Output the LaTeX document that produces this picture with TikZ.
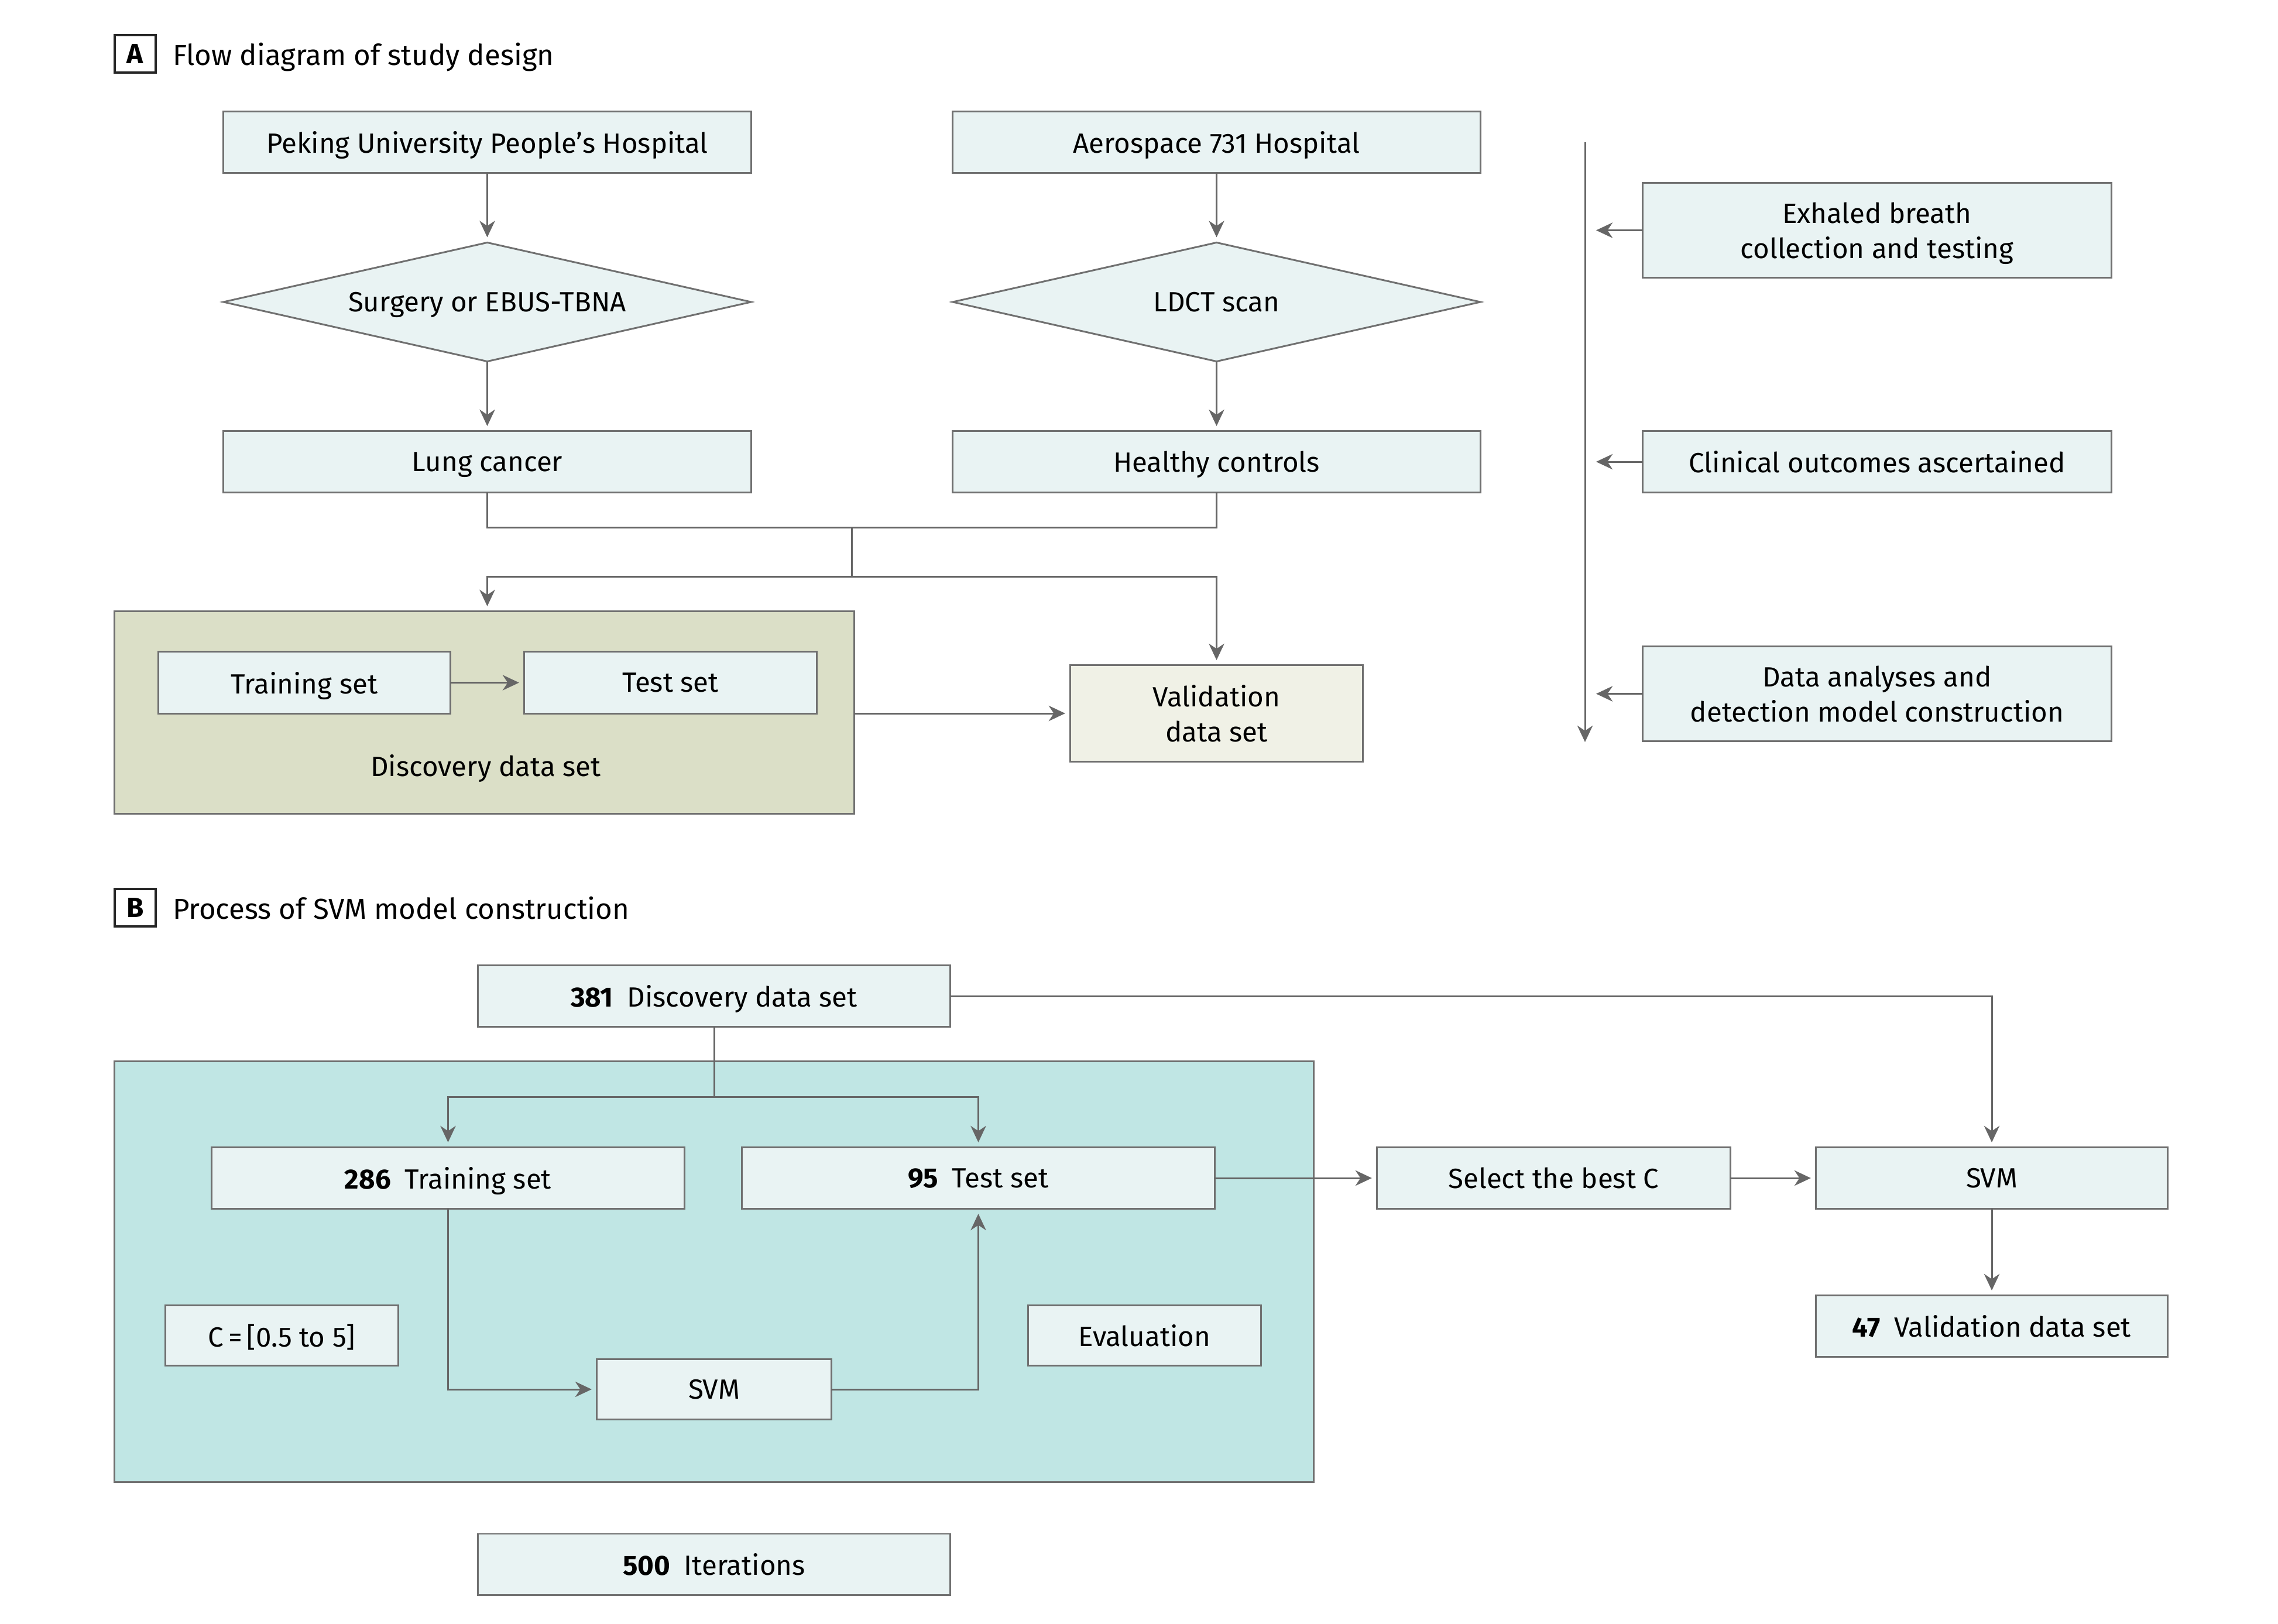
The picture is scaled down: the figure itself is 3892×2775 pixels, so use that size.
\documentclass[tikz,border=0pt]{standalone}
\usepackage{fontspec}
\setmainfont{Fira Sans}
\usetikzlibrary{arrows.meta,shapes.geometric,calc}
\definecolor{boxfill}{HTML}{E9F3F3}
\definecolor{boxline}{HTML}{707070}
\definecolor{arrcol}{HTML}{666666}
\definecolor{discfill}{HTML}{DBDFC7}
\definecolor{valfill}{HTML}{F0F1E6}
\definecolor{tealfill}{HTML}{C0E6E4}
\tikzset{
  every node/.style={font=\fontsize{13.5}{17}\selectfont, inner sep=0pt, outer sep=0pt, align=center, text depth=0pt},
  box/.style={draw=boxline, line width=0.85pt, fill=boxfill, rectangle},
  dia/.style={draw=boxline, line width=0.85pt, fill=boxfill, diamond, aspect=4.44},
  conn/.style={draw=arrcol, line width=0.85pt},
  arr/.style={conn, -{Stealth[length=8pt, width=7.5pt, inset=2.5pt]}, shorten >=0.09cm},
  panellab/.style={draw=black!85, line width=0.9pt, font=\fontsize{13.5}{15}\selectfont\bfseries, minimum width=0.7cm, minimum height=0.64cm},
  paneltitle/.style={anchor=west, font=\fontsize{14}{16}\selectfont},
}
\begin{document}
\begin{tikzpicture}[x=0.01cm, y=-0.01cm]
\useasboundingbox (0,0) rectangle (3892,2775);
% ---------- Panel A ----------
\node[panellab] (labA) at (231,92) {A};
\node[paneltitle] (titleA) at (295,92) {Flow diagram of study design};
\node[box, minimum width=9.01cm, minimum height=1.04cm] (peking) at (832.5,243) {Peking University People’s Hospital};
\node[box, minimum width=9.01cm, minimum height=1.04cm] (aero) at (2078.5,243) {Aerospace 731 Hospital};
\node[dia, minimum width=9.01cm, minimum height=2.03cm] (diam1) at (832.5,516) {Surgery or EBUS-TBNA};
\node[dia, minimum width=9.01cm, minimum height=2.03cm] (diam2) at (2078.5,516) {LDCT scan};
\node[box, minimum width=9.01cm, minimum height=1.04cm] (lung) at (832.5,789) {Lung cancer};
\node[box, minimum width=9.01cm, minimum height=1.04cm] (healthy) at (2078.5,789) {Healthy controls};
\node[box, fill=discfill, minimum width=12.63cm, minimum height=3.45cm] (disc) at (827.5,1217.5) {};
\node[box, minimum width=4.98cm, minimum height=1.05cm] (trainA) at (520,1166.5) {Training set};
\node[box, minimum width=4.99cm, minimum height=1.05cm] (testA) at (1145.5,1166.5) {Test set};
\node (disclab) at (830,1308) {Discovery data set};
\node[box, fill=valfill, minimum width=4.99cm, minimum height=1.64cm] (valid) at (2078.5,1219) {Validation\\data set};
\coordinate (mergeA) at (1455,901);
\coordinate (splitA) at (1455,985);
\draw[arr] (peking.south) -- (diam1.north);
\draw[arr] (aero.south) -- (diam2.north);
\draw[arr] (diam1.south) -- (lung.north);
\draw[arr] (diam2.south) -- (healthy.north);
\draw[conn] (lung.south) |- (mergeA);
\draw[conn] (healthy.south) |- (mergeA);
\draw[conn] (mergeA) -- (splitA);
\draw[arr] (splitA) -| (lung.south |- disc.north);
\draw[arr] (splitA) -| (valid.north);
\draw[arr] (trainA.east) -- (testA.west);
\draw[arr] (disc.east |- valid.west) -- (valid.west);
% timeline
\node[box, minimum width=8.0cm, minimum height=1.62cm] (exh) at (3207,393.5) {Exhaled breath\\collection and testing};
\node[box, minimum width=8.0cm, minimum height=1.04cm] (clin) at (3207,789) {Clinical outcomes ascertained};
\node[box, minimum width=8.0cm, minimum height=1.62cm] (dat) at (3207,1185.5) {Data analyses and\\detection model construction};
\coordinate (tltop) at (2708,243);
\coordinate (tlbot) at (2708,1277);
\draw[arr] (tltop) -- (tlbot);
\draw[arr] (exh.west) -- ([xshift=0.1cm]tltop |- exh.west);
\draw[arr] (clin.west) -- ([xshift=0.1cm]tltop |- clin.west);
\draw[arr] (dat.west) -- ([xshift=0.1cm]tltop |- dat.west);
% ---------- Panel B ----------
\node[panellab] (labB) at (231,1551) {B};
\node[paneltitle] (titleB) at (295,1551) {Process of SVM model construction};
\node[box, minimum width=8.06cm, minimum height=1.05cm] (b381) at (1220,1702) {\textbf{381}\enspace Discovery data set};
\node[box, fill=tealfill, minimum width=20.48cm, minimum height=7.18cm] (teal) at (1220,2173) {};
\node[box, minimum width=8.07cm, minimum height=1.04cm] (train) at (765.5,2013) {\textbf{286}\enspace Training set};
\node[box, minimum width=8.07cm, minimum height=1.04cm] (test) at (1671.5,2013) {\textbf{95}\enspace Test set};
\node[box, minimum width=6.03cm, minimum height=1.04cm] (selC) at (2654.5,2013) {Select the best C};
\node[box, minimum width=6.0cm, minimum height=1.04cm] (svmR) at (3403,2013) {SVM};
\node[box, minimum width=6.0cm, minimum height=1.04cm] (val47) at (3403,2266) {\textbf{47}\enspace Validation data set};
\node[box, minimum width=3.97cm, minimum height=1.02cm] (cbox) at (481.5,2282) {C\,=\,[0.5 to 5]};
\node[box, minimum width=4.0cm, minimum height=1.02cm] (svmI) at (1220,2374) {SVM};
\node[box, minimum width=3.97cm, minimum height=1.02cm] (evalb) at (1955.5,2282) {Evaluation};
\node[box, minimum width=8.06cm, minimum height=1.04cm] (iter) at (1220,2673) {\textbf{500}\enspace Iterations};
\coordinate (splitB) at (1220,1874);
\draw[conn] (b381.south) -- (splitB);
\draw[arr] (splitB) -| (train.north);
\draw[arr] (splitB) -| (test.north);
\draw[arr] (train.south) |- (svmI.west);
\draw[arr] (svmI.east) -| (test.south);
\draw[arr] (test.east) -- (selC.west);
\draw[arr] (selC.east) -- (svmR.west);
\draw[arr] (b381.east) -| (svmR.north);
\draw[arr] (svmR.south) -- (val47.north);
\end{tikzpicture}
\end{document}
